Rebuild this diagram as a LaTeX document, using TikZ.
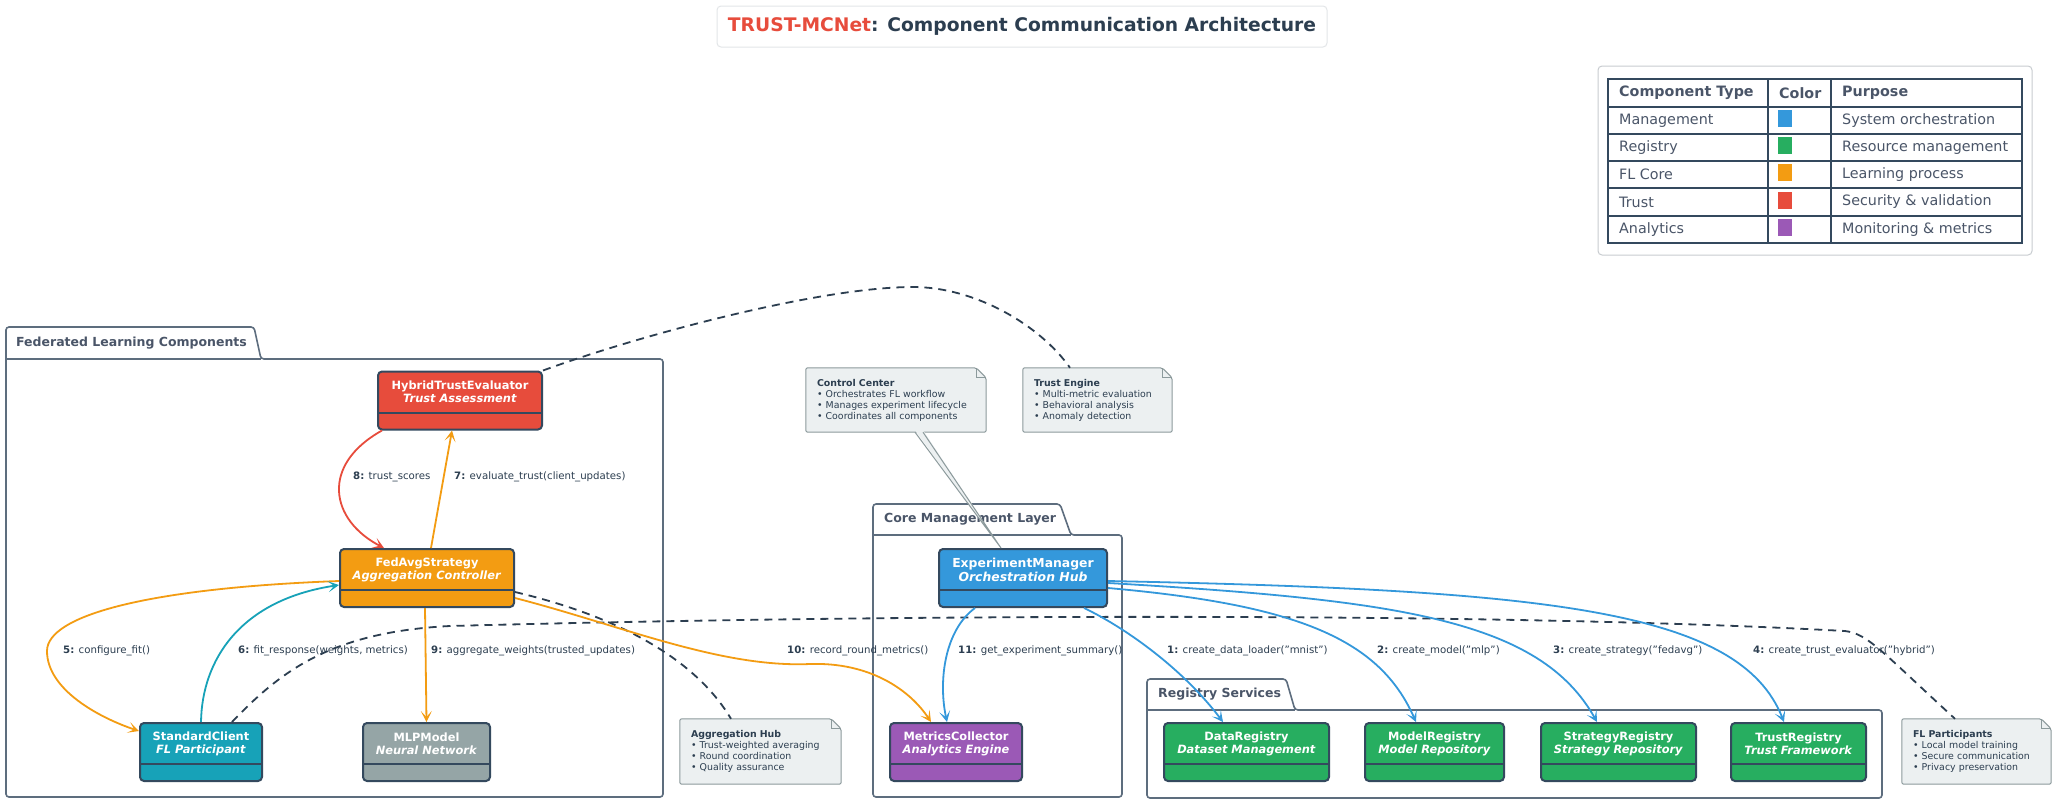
\documentclass[tikz,border=0pt]{standalone}
\usepackage{fontspec}
\setmainfont{DejaVu Sans}
\usetikzlibrary{arrows.meta, calc, positioning, backgrounds}

\definecolor{ink}{HTML}{2C3E50}
\definecolor{titlered}{HTML}{E74C3C}
\definecolor{titleline}{HTML}{E3E6E8}
\definecolor{boxline}{HTML}{34495E}
\definecolor{pkgline}{HTML}{5D6D7E}
\definecolor{pkgtext}{HTML}{4A5568}
\definecolor{notefill}{HTML}{ECF0F1}
\definecolor{noteline}{HTML}{8C9A9C}
\definecolor{legline}{HTML}{C8CCD0}
\definecolor{mgmtblue}{HTML}{3498DB}
\definecolor{regigreen}{HTML}{27AE60}
\definecolor{coreorange}{HTML}{F39C12}
\definecolor{trustred}{HTML}{E74C3C}
\definecolor{anapurple}{HTML}{9B59B6}
\definecolor{clientteal}{HTML}{17A2B8}
\definecolor{modelgray}{HTML}{95A5A6}

\tikzset{
  comp/.style={draw=boxline, line width=2pt, rounded corners=4pt, minimum height=58pt, inner sep=0pt,
    path picture={\draw[boxline, line width=2pt] ([yshift=17pt]path picture bounding box.south west) -- ([yshift=17pt]path picture bounding box.south east);}},
  boxtext/.style={text=white, align=center, inner sep=0pt, font=\fontsize{11.4}{13}\selectfont\bfseries},
  notebox/.style={inner xsep=11pt, inner ysep=0pt, align=left, text=ink, font=\fontsize{9.4}{11}\selectfont},
  noteedge/.style={draw=noteline, fill=notefill, line width=1pt, rounded corners=2pt},
  pkg/.style={draw=pkgline, line width=1.6pt, rounded corners=3pt},
  pkgtitle/.style={anchor=west, inner sep=0pt, text=pkgtext, font=\fontsize{12.5}{14}\selectfont\bfseries},
  elabel/.style={anchor=west, inner sep=0pt, text=ink, font=\fontsize{10.2}{12}\selectfont},
  arr/.style={line width=1.8pt, -{Stealth[length=11pt, width=11pt, inset=6pt]}},
  dashlink/.style={draw=ink, line width=1.8pt, dash pattern=on 8pt off 6pt},
  legrule/.style={draw=boxline, line width=1.2pt},
  legtext/.style={anchor=west, inner sep=0pt, text=pkgtext, font=\fontsize{14.3}{16}\selectfont},
  swatch/.style={minimum width=14pt, minimum height=17pt, inner sep=0pt},
  titlebox/.style={draw=titleline, line width=1pt, rounded corners=4pt, fill=white, minimum width=610pt, minimum height=41pt, text=ink, font=\fontsize{18.7}{20}\selectfont\bfseries}
}

\begin{document}
\begin{tikzpicture}[x=1pt,y=-1pt]
  \useasboundingbox (0,0) rectangle (2057,804);
  \begin{scope}[on background layer]
    \fill[white] (0,0) rectangle (2057,804);
  \end{scope}

  % Title
  \node[titlebox] (title) at (1022,26.5) {{\color{titlered}TRUST-MCNet}: Component Communication Architecture};

  % Legend
  \draw[legline, line width=1pt, rounded corners=4pt] (1598,66) rectangle (2032,255);
  \draw[legrule] (1608,79) rectangle (2022,243);
  \foreach \y in {107,134,161,188,216}
    \draw[legrule] (1608,\y) -- (2022,\y);
  \draw[legrule] (1768,79) -- (1768,243) (1831,79) -- (1831,243);
  \node[legtext, font=\fontsize{14.3}{16}\selectfont\bfseries] (leghtype) at (1619,93) {Component Type};
  \node[legtext, font=\fontsize{14.3}{16}\selectfont\bfseries] (leghcolor) at (1779,93) {Color};
  \node[legtext, font=\fontsize{14.3}{16}\selectfont\bfseries] (leghpurpose) at (1842,93) {Purpose};
  \foreach \y/\kind/\col/\purpose [count=\i] in {120.5/Management/mgmtblue/System orchestration,
      147.5/Registry/regigreen/Resource management, 174.5/FL Core/coreorange/Learning process,
      202/Trust/trustred/Security \& validation, 229.5/Analytics/anapurple/Monitoring \& metrics} {
    \node[legtext] (legtype\i) at (1619,\y) {\kind};
    \node[swatch, fill=\col] (legcolor\i) at (1785,\y-2) {};
    \node[legtext] (legpurpose\i) at (1842,\y) {\purpose};
  }

  % Packages
  \draw[pkg] (6,797) -- (6,327) -- (254,327) -- (261,359) -- (663,359) -- (663,797) -- cycle;
  \draw[pkg] (6,359) -- (261,359);
  \node[pkgtitle] (flpkg) at (16,343) {Federated Learning Components};

  \draw[pkg] (873,797) -- (873,504) -- (1060,504) -- (1071,535) -- (1122,535) -- (1122,797) -- cycle;
  \draw[pkg] (873,535) -- (1071,535);
  \node[pkgtitle] (corepkg) at (884,519) {Core Management Layer};

  \draw[pkg] (1147,798) -- (1147,679) -- (1286,679) -- (1295,710) -- (1882,710) -- (1882,798) -- cycle;
  \draw[pkg] (1147,710) -- (1295,710);
  \node[pkgtitle] (regpkg) at (1158,694) {Registry Services};

  % Components
  \node[comp, fill=trustred, minimum width=164pt,
    label={[boxtext, yshift=8.5pt]center:{HybridTrustEvaluator\\\textit{Trust Assessment}}}] (hte) at (460,400.5) {};
  \node[comp, fill=coreorange, minimum width=174pt,
    label={[boxtext, yshift=8.5pt]center:{FedAvgStrategy\\\textit{Aggregation Controller}}}] (fedavg) at (427,578) {};
  \node[comp, fill=clientteal, minimum width=122pt,
    label={[boxtext, yshift=8.5pt]center:{StandardClient\\\textit{FL Participant}}}] (stdclient) at (201,752) {};
  \node[comp, fill=modelgray, minimum width=127pt,
    label={[boxtext, yshift=8.5pt]center:{MLPModel\\\textit{Neural Network}}}] (mlp) at (426.5,752) {};
  \node[comp, fill=mgmtblue, minimum width=168pt,
    label={[boxtext, yshift=8.5pt, font=\fontsize{12.4}{14}\selectfont\bfseries]center:{ExperimentManager\\\textit{Orchestration Hub}}}] (expmgr) at (1023,578) {};
  \node[comp, fill=anapurple, minimum width=132pt,
    label={[boxtext, yshift=8.5pt]center:{MetricsCollector\\\textit{Analytics Engine}}}] (metrics) at (956,752) {};
  \node[comp, fill=regigreen, minimum width=165pt,
    label={[boxtext, yshift=8.5pt]center:{DataRegistry\\\textit{Dataset Management}}}] (datareg) at (1246.5,752) {};
  \node[comp, fill=regigreen, minimum width=139pt,
    label={[boxtext, yshift=8.5pt]center:{ModelRegistry\\\textit{Model Repository}}}] (modelreg) at (1434.5,752) {};
  \node[comp, fill=regigreen, minimum width=155pt,
    label={[boxtext, yshift=8.5pt]center:{StrategyRegistry\\\textit{Strategy Repository}}}] (stratreg) at (1618.5,752) {};
  \node[comp, fill=regigreen, minimum width=135pt,
    label={[boxtext, yshift=8.5pt]center:{TrustRegistry\\\textit{Trust Framework}}}] (trustreg) at (1798.5,752) {};

  % Notes
  \node[notebox, text width=158pt, minimum height=64pt] (ccnote) at (896,400)
    {\textbf{Control Center}\\• Orchestrates FL workflow\\• Manages experiment lifecycle\\• Coordinates all components};
  \node[notebox, text width=127pt, minimum height=64pt] (tenote) at (1097.5,400)
    {\textbf{Trust Engine}\\• Multi-metric evaluation\\• Behavioral analysis\\• Anomaly detection};
  \node[notebox, text width=139pt, minimum height=65pt] (aggnote) at (760.5,751.5)
    {\textbf{Aggregation Hub}\\• Trust-weighted averaging\\• Round coordination\\• Quality assurance};
  \node[notebox, text width=127pt, minimum height=65pt] (flnote) at (1976.5,751.5)
    {\textbf{FL Participants}\\• Local model training\\• Secure communication\\• Privacy preservation};
  \begin{scope}[on background layer]
    \foreach \n in {ccnote,tenote,aggnote,flnote} {
      \draw[noteedge] (\n.south west) -- (\n.north west) -- ([xshift=-10pt]\n.north east)
        -- ([yshift=-10pt]\n.north east) -- (\n.south east) -- cycle;
      \draw[draw=noteline, line width=1pt] ([xshift=-10pt]\n.north east) -- ([xshift=-10pt,yshift=-10pt]\n.north east)
        -- ([yshift=-10pt]\n.north east);
    }
  \end{scope}
  \fill[notefill] ([xshift=19pt,yshift=2pt]ccnote.south) -- ([xshift=-22pt]expmgr.north) -- ([xshift=27pt,yshift=2pt]ccnote.south) -- cycle;
  \draw[draw=noteline, line width=1pt] ([xshift=19pt]ccnote.south) -- ([xshift=-22pt]expmgr.north) -- ([xshift=27pt]ccnote.south);

  % Note links
  \draw[dashlink] (hte.north east) .. controls (640,335) and (820,287) .. (913,287)
    .. controls (975,287) and (1040,325) .. ([xshift=-27.5pt]tenote.north);
  \draw[dashlink] ([yshift=-14pt]fedavg.east) .. controls (600,612) and (690,650) .. ([xshift=-29.5pt]aggnote.north);
  \draw[dashlink] ([xshift=31pt]stdclient.north) .. controls (280,672) and (330,632) .. (450,626)
    .. controls (900,614) and (1500,612) .. (1845,631)
    .. controls (1868,634) and (1880,650) .. ([xshift=-21.5pt]flnote.north);

  % Messages inside the FL package
  \draw[arr, trustred] ([xshift=5pt]hte.south west) .. controls (320,465) and (330,520) .. ([xshift=45pt]fedavg.north west);
  \draw[arr, coreorange] ([xshift=92pt]fedavg.north west) -- ([xshift=75pt]hte.south west);
  \draw[arr, coreorange] ([yshift=-3pt]fedavg.west) .. controls (150,588) and (47,615) .. (47,651)
    .. controls (47,690) and (100,718) .. ([yshift=-9pt]stdclient.north west);
  \draw[arr, clientteal] (stdclient.north) .. controls (202,660) and (240,600) .. ([yshift=-7pt]fedavg.west);
  \draw[arr, coreorange] ([xshift=-2pt]fedavg.south) -- (mlp.north);
  \draw[arr, coreorange] ([yshift=-20pt]fedavg.east) .. controls (620,625) and (720,668) .. (810,664)
    .. controls (870,662) and (910,690) .. ([xshift=-25pt]metrics.north);

  % Messages from the experiment manager
  \draw[arr, mgmtblue] ([xshift=37pt]expmgr.south west) .. controls (945,630) and (938,680) .. ([xshift=-9pt]metrics.north);
  \draw[arr, mgmtblue] ([xshift=-24pt]expmgr.south east) .. controls (1120,625) and (1180,665) .. ([xshift=-23.5pt]datareg.north);
  \draw[arr, mgmtblue] ([yshift=-10pt]expmgr.east) .. controls (1300,605) and (1380,640) .. ([xshift=-18.5pt]modelreg.north);
  \draw[arr, mgmtblue] ([yshift=-5pt]expmgr.east) .. controls (1400,600) and (1540,620) .. ([xshift=-21.5pt]stratreg.north);
  \draw[arr, mgmtblue] ([yshift=-3pt]expmgr.east) .. controls (1550,590) and (1740,610) .. ([xshift=-14.5pt]trustreg.north);

  % Message labels
  \node[elabel] (lbl8) at (353,477) {\textbf{8:} trust\_scores};
  \node[elabel] (lbl7) at (454,477) {\textbf{7:} evaluate\_trust(client\_updates)};
  \node[elabel] (lbl5) at (63,651) {\textbf{5:} configure\_fit()};
  \node[elabel] (lbl6) at (238,651) {\textbf{6:} fit\_response(weights, metrics)};
  \node[elabel] (lbl9) at (431,651) {\textbf{9:} aggregate\_weights(trusted\_updates)};
  \node[elabel] (lbl10) at (787,651) {\textbf{10:} record\_round\_metrics()};
  \node[elabel] (lbl11) at (958,651) {\textbf{11:} get\_experiment\_summary()};
  \node[elabel] (lbl1) at (1167,651) {\textbf{1:} create\_data\_loader("mnist")};
  \node[elabel] (lbl2) at (1377,651) {\textbf{2:} create\_model("mlp")};
  \node[elabel] (lbl3) at (1553,651) {\textbf{3:} create\_strategy("fedavg")};
  \node[elabel] (lbl4) at (1753,651) {\textbf{4:} create\_trust\_evaluator("hybrid")};
\end{tikzpicture}
\end{document}
